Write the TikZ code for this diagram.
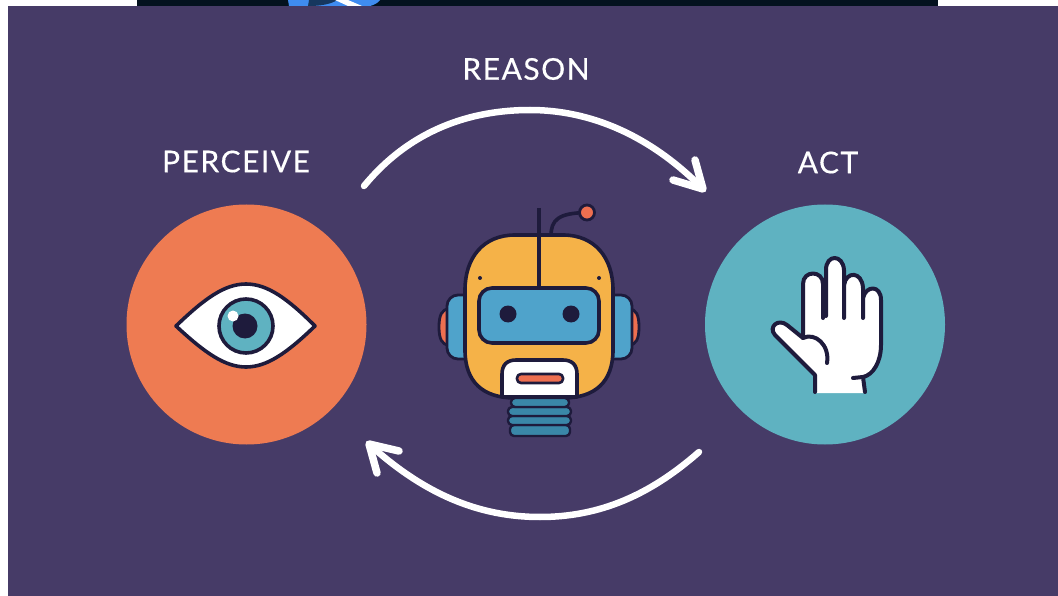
\documentclass[tikz,border=0pt]{standalone}
\usepackage{fontspec}
\setmainfont{Lato}[LetterSpace=5,FakeBold=0.35]
\usepackage{tikz}
\usetikzlibrary{positioning,calc}
\definecolor{panelbg}{HTML}{463B67}
\definecolor{inkdark}{HTML}{1E1B3C}
\definecolor{orangedisc}{HTML}{EE7B52}
\definecolor{tealdisc}{HTML}{5FB2C1}
\definecolor{headyellow}{HTML}{F5B248}
\definecolor{visorblue}{HTML}{4FA3CB}
\definecolor{neckblue}{HTML}{3A87A8}
\definecolor{earred}{HTML}{EE6F50}
\definecolor{bandnavy}{HTML}{04121F}
\definecolor{bandblue}{HTML}{3F8CF0}
\tikzset{
	stagelabel/.style={text=white,inner sep=0pt,font=\fontsize{30}{31}\selectfont},
	stagedisc/.style={circle,minimum size=240pt,inner sep=0pt},
	cyclearrow/.style={white,line width=6.5pt,line cap=round,line join=round},
	outline/.style={draw=inkdark,line width=3.6pt,line join=round},
	handline/.style={outline,line width=4pt,line cap=round},
	neckring/.style={outline,line width=2.4pt,fill=neckblue,rounded corners=4pt},
}
\begin{document}
\begin{tikzpicture}[x=1pt,y=-1pt]
		\useasboundingbox (0,0) rectangle (1058,596);
		\fill[white] (0,0) rectangle (1058,596);
		\fill[bandnavy] (137,0) rectangle (938,6);
		\fill[bandblue] (288,0) -- (380,0) .. controls (378,3) and (374,5) .. (370,6) -- (289,6) -- cycle;
		\fill[bandnavy!70!bandblue] (309,0) -- (337,0) .. controls (332,4) and (320,6) .. (310,6) -- (308,6) -- cycle;
		\fill[white] (335,0) -- (348,0) -- (362,6) -- (348,6) -- cycle;
		\fill[panelbg] (8,6) rectangle (1058,596);

		\node[stagedisc,fill=orangedisc] (perceive) at (246.5,324.5) {};
		\node[stagedisc,fill=tealdisc] (act) at (825,324.5) {};
		\node[stagelabel] (perceivelabel) at (236,161.5) {PERCEIVE};
		\node[stagelabel] (reasonlabel) at (526,69) {REASON};
		\node[stagelabel] (actlabel) at (828,162.5) {ACT};

		\coordinate (topstart) at (364,186);
		\coordinate (toppeak) at (530,110);
		\coordinate (topend) at (703,189);
		\coordinate (bottomstart) at (699,452);
		\coordinate (bottompeak) at (540,517);
		\coordinate (bottomend) at (369,444);
		\draw[cyclearrow] (topstart) .. controls (410,130) and (470,110) .. (toppeak) .. controls (590,110) and (650,135) .. (topend);
		\draw[cyclearrow,line width=7.5pt] (695,160) -- (topend) -- (673,180);
		\draw[cyclearrow] (bottomstart) .. controls (650,495) and (600,517) .. (bottompeak) .. controls (480,517) and (425,495) .. (bottomend);
		\draw[cyclearrow,line width=7.5pt] (377,473) -- (bottomend) -- (399,451);

		% eye
		\draw[outline,fill=white] (176,326) .. controls (205,298) and (225,284) .. (246,284) .. controls (267,284) and (287,298) .. (315,326) .. controls (287,353) and (267,367) .. (246,367) .. controls (225,367) and (205,353) .. (176,326) -- cycle;
		\draw[outline,fill=tealdisc] (246,326) circle (27);
		\fill[inkdark] (245,326) circle (12.5);
		\fill[white] (233,316) circle (5.5);

		% hand
		\fill[white] (815,393) -- (815,375) -- (775,335) .. controls (768,327) and (778,318) .. (787,325) -- (803,338) -- (803,284) .. controls (803,270) and (823,270) .. (823,284) -- (826,270) .. controls (826,254) and (843,254) .. (845,270) -- (846,285) .. controls (848,271) and (862,271) .. (863,288) -- (865,298) .. controls (867,285) and (881,285) .. (881,300) -- (881,345) .. controls (881,362) and (873,375) .. (863,377) -- (865,393) -- cycle;
		\draw[handline] (815,392) -- (815,375) -- (775,335) .. controls (768,327) and (778,318) .. (787,325) -- (803,338) -- (803,284) .. controls (803,270) and (823,270) .. (823,284) -- (823,318);
		\draw[handline] (826,316) -- (826,270) .. controls (826,254) and (843,254) .. (844,270) -- (844,318);
		\draw[handline] (844,285) .. controls (846,271) and (862,271) .. (863,288) -- (863,318);
		\draw[handline] (863,298) .. controls (866,285) and (881,285) .. (881,300) -- (881,345) .. controls (881,362) and (873,375) .. (863,377) -- (865,392);
		\draw[handline] (853,378) -- (863,377);
		\draw[handline] (803,338) .. controls (815,332) and (830,345) .. (827,363);

		% robot
		\draw[outline,line width=2.8pt,fill=earred] (439,327) .. controls (439,315) and (442,309) .. (449,309) -- (449,345) .. controls (442,345) and (439,339) .. (439,327) -- cycle;
		\draw[outline,line width=2.8pt,fill=earred] (639,327) .. controls (639,315) and (636,309) .. (629,309) -- (629,345) .. controls (636,345) and (639,339) .. (639,327) -- cycle;
		\draw[outline,line width=2.8pt,fill=visorblue,rounded corners=11pt] (447,295) rectangle (480,359);
		\draw[outline,line width=2.8pt,fill=visorblue,rounded corners=11pt] (600,295) rectangle (632,359);
		\draw[outline,line cap=round] (551,236) .. controls (551,220) and (558,213) .. (587,212.5);
		\draw[outline,line width=2.8pt,fill=earred] (587,212.5) circle (7.5);
		\draw[outline,fill=headyellow] (515,235) -- (563,235) .. controls (595,235) and (613,258) .. (613,290) -- (613,350) .. controls (613,382) and (595,398) .. (563,398) -- (515,398) .. controls (483,398) and (465,382) .. (465,350) -- (465,290) .. controls (465,258) and (483,235) .. (515,235) -- cycle;
		\draw[outline] (539,208) -- (539,288);
		\fill[inkdark] (480,278) circle (2) (599,278) circle (2);
		\draw[outline,fill=visorblue,rounded corners=13pt] (479,288) rectangle (599,343);
		\fill[inkdark] (508,314) circle (8.5) (571,314) circle (8.5);
		\draw[outline,fill=white] (502,397) -- (502,374) .. controls (502,365) and (507,360) .. (516,360) -- (563,360) .. controls (572,360) and (577,365) .. (577,374) -- (577,397) -- cycle;
		\draw[outline,line width=2.6pt,fill=earred,rounded corners=4pt] (517,374) rectangle (563,383);
		\draw[neckring] (510,425) rectangle (570,436);
		\draw[neckring] (508,416) rectangle (571,425);
		\draw[neckring] (508,407) rectangle (571,416);
		\draw[neckring] (511,398) rectangle (569,407);
		\end{tikzpicture}
\end{document}
